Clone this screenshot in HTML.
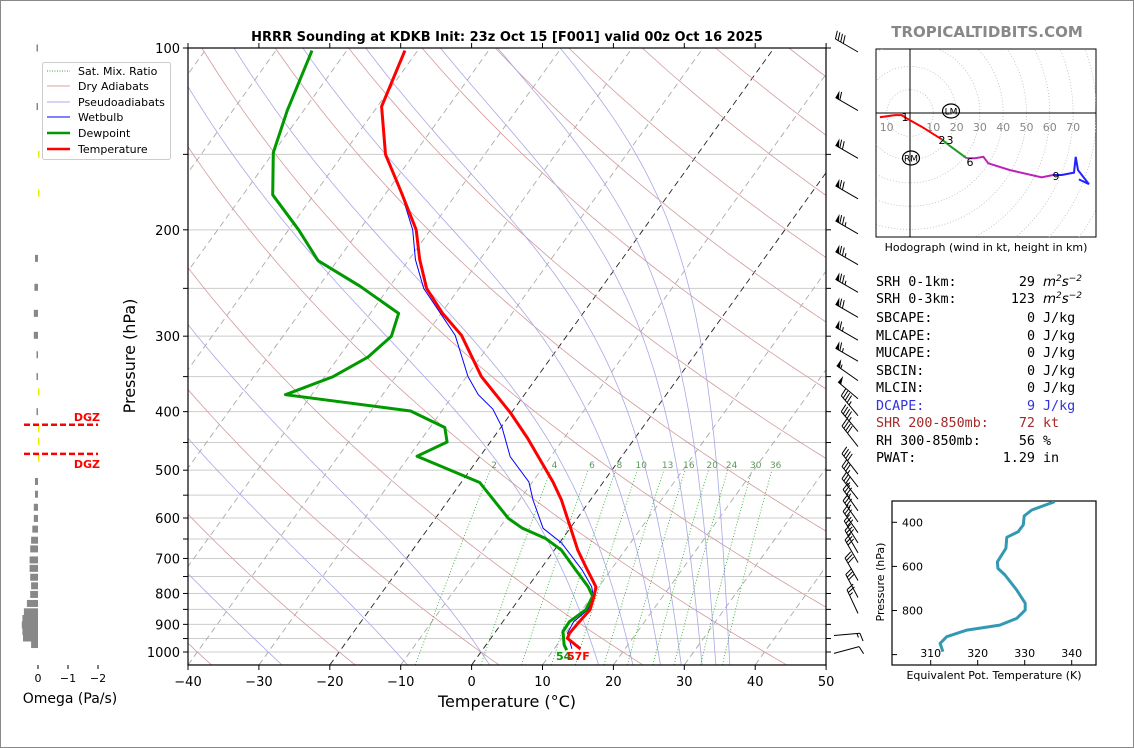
<!DOCTYPE html>
<html><head><meta charset="utf-8"><style>
html,body{margin:0;padding:0;background:#fff;}
svg{display:block;font-family:"DejaVu Sans","Liberation Sans",sans-serif;}
</style></head><body>
<svg id="chart" width="1134" height="748" viewBox="0 0 1134 748" xmlns="http://www.w3.org/2000/svg">
<defs><clipPath id="plotclip"><rect x="188" y="48" width="638" height="617"/></clipPath>
<clipPath id="hodoclip"><rect x="876" y="49" width="220" height="188"/></clipPath>
<clipPath id="thclip"><rect x="892" y="501" width="204" height="164"/></clipPath></defs>
<rect x="0.5" y="0.5" width="1133" height="747" fill="#fff" stroke="#888"/>
<text x="507" y="41" text-anchor="middle" font-size="13" font-weight="bold">HRRR Sounding at KDKB Init: 23z Oct 15 [F001] valid 00z Oct 16 2025</text>
<text x="987" y="37" text-anchor="middle" font-size="15" font-weight="bold" fill="#888">TROPICALTIDBITS.COM</text>
<g id="bg" clip-path="url(#plotclip)"></g>
<g id="series" clip-path="url(#plotclip)"></g>
<g id="axes"></g>
<g id="barbs"></g>
<g id="omega"></g>
<g id="hodo"></g>
<g id="theta"></g>
<g id="stats" font-family="'DejaVu Sans Mono','Liberation Mono',monospace" font-size="13.4">
<text x="876" y="286">SRH 0-1km:</text><text x="1035" y="286" text-anchor="end">29</text><text x="1043" y="286" font-style="italic" font-family="'DejaVu Sans',sans-serif">m<tspan dy="-5" font-size="9">2</tspan><tspan dy="5">s</tspan><tspan dy="-5" font-size="9">−2</tspan></text>
<text x="876" y="303">SRH 0-3km:</text><text x="1035" y="303" text-anchor="end">123</text><text x="1043" y="303" font-style="italic" font-family="'DejaVu Sans',sans-serif">m<tspan dy="-5" font-size="9">2</tspan><tspan dy="5">s</tspan><tspan dy="-5" font-size="9">−2</tspan></text>
<text x="876" y="322">SBCAPE:</text><text x="1035" y="322" text-anchor="end">0</text><text x="1043" y="322">J/kg</text>
<text x="876" y="340">MLCAPE:</text><text x="1035" y="340" text-anchor="end">0</text><text x="1043" y="340">J/kg</text>
<text x="876" y="357">MUCAPE:</text><text x="1035" y="357" text-anchor="end">0</text><text x="1043" y="357">J/kg</text>
<text x="876" y="375">SBCIN:</text><text x="1035" y="375" text-anchor="end">0</text><text x="1043" y="375">J/kg</text>
<text x="876" y="392">MLCIN:</text><text x="1035" y="392" text-anchor="end">0</text><text x="1043" y="392">J/kg</text>
<text x="876" y="410" fill="#3333dd">DCAPE:</text><text x="1035" y="410" text-anchor="end" fill="#3333dd">9</text><text x="1043" y="410" fill="#3333dd">J/kg</text>
<text x="876" y="427" fill="#a52a2a">SHR 200-850mb:</text><text x="1035" y="427" text-anchor="end" fill="#a52a2a">72</text><text x="1043" y="427" fill="#a52a2a">kt</text>
<text x="876" y="445">RH 300-850mb:</text><text x="1035" y="445" text-anchor="end">56</text><text x="1043" y="445">%</text>
<text x="876" y="462">PWAT:</text><text x="1035" y="462" text-anchor="end">1.29</text><text x="1043" y="462">in</text>
</g>
<g id="legend">
<rect x="42.5" y="62.5" width="128" height="97" fill="#fff" stroke="#ccc" rx="2"/>
<line x1="47" y1="71" x2="70" y2="71" stroke="#3a3" stroke-dasharray="1,1.5"/><text x="78" y="75" font-size="11">Sat. Mix. Ratio</text>
<line x1="47" y1="86" x2="70" y2="86" stroke="#d7a5a5"/><text x="78" y="90" font-size="11">Dry Adiabats</text>
<line x1="47" y1="102" x2="70" y2="102" stroke="#aaaaee"/><text x="78" y="106" font-size="11">Pseudoadiabats</text>
<line x1="47" y1="117" x2="70" y2="117" stroke="#0000ff"/><text x="78" y="121" font-size="11">Wetbulb</text>
<line x1="47" y1="133" x2="70" y2="133" stroke="#009900" stroke-width="2.5"/><text x="78" y="137" font-size="11">Dewpoint</text>
<line x1="47" y1="149" x2="70" y2="149" stroke="#ff0000" stroke-width="2.5"/><text x="78" y="153" font-size="11">Temperature</text>
</g>
</svg>
<script>
// ---- Sounding data ----
const tempP=[101,125,150,173,200,224,250,275,299,350,402,443,523,560,616,678,722,780,809,852,891,931,949,988];
const tempC=[-71.8,-69.4,-64,-58,-52,-48.5,-44.6,-39.8,-34.9,-27.9,-20.1,-15.1,-7.1,-4.1,-0.4,3.3,6.1,9.6,10.3,11.1,10.8,10.6,10.8,13.7];
const dewP=[101,127,149,175,200,225,248,275,300,325,350,375,399,425,449,474,524,601,624,648,678,731,780,809,851,891,925,973,993];
const dewC=[-84.9,-82.3,-80,-75.8,-68.6,-62.7,-54.2,-46,-44.7,-45.9,-48.8,-53.7,-34.4,-27.9,-26.1,-28.9,-17.4,-9.7,-6.7,-2.5,1,5,8.5,10.1,10.5,9.4,9.5,11,11.9];
const wbP=[166,200,224,250,299,350,375,396,424,475,523,560,624,660,731,780,809,851,891,931,988];
const wbC=[-59.6,-52.5,-49.1,-45,-35.8,-29.8,-26.5,-23,-19.9,-15.7,-10.5,-8.1,-3.8,0.3,5.9,9,10.2,10.8,10,10.3,12.5];
const xTicks=[-40,-30,-20,-10,0,10,20,30,40,50];
const pLabels=[100,200,300,400,500,600,700,800,900,1000];
const mixRatios=[2,4,6,8,10,13,16,20,24,30,36];
const moistT0=[-90,-70,-50,-30,-12,0,16,21,25,28,31,33,35];
const barbP=[100,125,150,175,200,225,250,275,300,325,350,375,400,425,450,500,525,550,575,600,625,650,675,700,750,800,850,925,990];
const barbDir=[300,300,300,300,300,300,300,300,300,300,305,310,320,320,322,322,322,322,325,325,325,328,330,330,330,332,335,85,75];
const barbSpd=[40,60,70,70,75,75,75,70,65,65,55,50,45,45,40,40,35,35,35,35,30,30,30,30,30,30,25,15,10];
const omegaP=[100,125,150,174,223,249,275,299,322,350,371,400,427,448,478,522,548,576,601,626,653,675,704,727,752,777,803,831,858,880,902,925,948,972];
const omegaV=[0.03,0.03,-0.03,-0.03,0.1,0.12,0.14,0.14,0.05,0.03,-0.03,0.03,-0.05,-0.05,-0.03,0.1,0.1,0.14,0.14,0.19,0.23,0.26,0.28,0.28,0.26,0.23,0.26,0.37,0.47,0.52,0.54,0.52,0.5,0.23];
const hodoU=[-12.9,-6.4,-3.6,-1.4,5,13.6,17.2,24.3,27.9,31.5,33.6,42.9,56.5,61.4,65.1,70.4,71.1,72.1,76.8,72.5];
const hodoV=[-1.8,-0.9,-0.9,-2.3,-5.9,-11.3,-14.2,-19.4,-19.4,-18.8,-21.6,-24.5,-27.6,-26.6,-26.6,-25.6,-18.8,-24.5,-30.5,-28.5];
const hodoSeg=[0,0,0,0,0,0,1,1,2,2,2,2,2,2,3,3,3,3,3,3];
const thetaP=[306,344,371,412,443,468,518,579,609,639,707,767,798,836,866,889,919,949,987];
const thetaK=[336.4,331.5,329.9,329.7,328.6,326.2,326,324.2,324.3,325.8,328.3,330.1,330.1,328.3,324.7,317.7,313.4,312,312.6];

const NS="http://www.w3.org/2000/svg";
function mk(tag,attrs,parent){const e=document.createElementNS(NS,tag);for(const k in attrs)e.setAttribute(k,attrs[k]);parent.appendChild(e);return e;}
function yP(p){return 48+604*Math.log10(p/100);}
function xT(T,p){return 188+(T+40)*7.09+0.72*(665-yP(p));}
function pts(ps,ts){return ps.map((p,i)=>xT(ts[i],p).toFixed(1)+","+yP(p).toFixed(1)).join(" ");}
const bg=document.getElementById('bg'),ser=document.getElementById('series'),ax=document.getElementById('axes');

for(let p=100;p<=1050;p+=50){const l=mk('line',{x1:188,x2:826,y1:yP(p),y2:yP(p),stroke:'#ccc','stroke-width':1},bg);

}
for(let t=-160;t<=50;t+=10){const l=mk('line',{x1:xT(t,1050),y1:yP(1050),x2:xT(t,100),y2:yP(100),stroke:(t===0||t===-20)?'#222':'#aaa','stroke-width':0.9,'stroke-dasharray':'6,4'},bg);

}
for(let th=-60;th<=220;th+=20){const ps=[],ts=[];for(let p=1050;p>=100;p-=10){ps.push(p);ts.push((th+273.15)*Math.pow(p/1000,0.286)-273.15);}
const l=mk('polyline',{points:pts(ps,ts),fill:'none',stroke:'#d49a9a','stroke-width':0.8},bg);

}
function dTdp(p,T){const es=6.112*Math.exp(17.67*(T-273.15)/(T-29.65));const rs=0.622*es/(p-es);return (287*T+2.5e6*rs)/(1004+2.5e6*2.5e6*rs*0.622/(287*T*T))/p;}
moistT0.forEach(t0=>{let ps=[],ts=[];let T=t0+273.15;for(let p=1000;p>=100;p-=5){ps.push(p);ts.push(T-273.15);T-=dTdp(p,T)*5;}
T=t0+273.15;const ps2=[],ts2=[];for(let p=1000;p<=1050;p+=5){ps2.unshift(p);ts2.unshift(T-273.15);T+=dTdp(p,T)*5;}
const l=mk('polyline',{points:pts(ps2.concat(ps),ts2.concat(ts)),fill:'none',stroke:'#a8a8e6','stroke-width':0.8},bg);

});
function tdw(w,p){const e=w/1000*p/(0.622+w/1000);const L=Math.log(e/6.112);return 243.5*L/(17.67-L);}
mixRatios.forEach(w=>{const ps=[],ts=[];for(let p=1050;p>=500;p-=10){ps.push(p);ts.push(tdw(w,p));}
const l=mk('polyline',{points:pts(ps,ts),fill:'none',stroke:'#2a2','stroke-width':0.8,'stroke-dasharray':'1,2'},bg);


const t=mk('text',{x:xT(tdw(w,500),490),y:468,'font-size':9,fill:'#5a9a5a','text-anchor':'middle'},bg);t.textContent=w;

});

const wb=mk('polyline',{points:pts(wbP,wbC),fill:'none',stroke:'#0000ff','stroke-width':1},ser);


const dw=mk('polyline',{points:pts(dewP,dewC),fill:'none',stroke:'#009900','stroke-width':3,'stroke-linejoin':'round'},ser);


const tp=mk('polyline',{points:pts(tempP,tempC),fill:'none',stroke:'#ff0000','stroke-width':3,'stroke-linejoin':'round'},ser);


const sd=mk('text',{x:556,y:660,'font-size':11,'font-weight':'bold',fill:'#009900'},ser);sd.textContent='54';


const st=mk('text',{x:567,y:660,'font-size':11,'font-weight':'bold',fill:'#ff0000'},ser);st.textContent='57F';



const fr=mk('rect',{x:188,y:48,width:638,height:617,fill:'none',stroke:'#000','stroke-width':1.2},ax);


xTicks.forEach(t=>{const x=188+(t+40)*7.09;mk('line',{x1:x,x2:x,y1:665,y2:670,stroke:'#000'},ax);mk('line',{x1:x,x2:x,y1:48,y2:43,stroke:'#000'},ax);
const lb=mk('text',{x:x,y:686,'font-size':13,'text-anchor':'middle'},ax);lb.textContent=(t<0?'\u2212':'')+Math.abs(t);

});
for(let p=100;p<=1000;p+=50){const y=yP(p);mk('line',{x1:183,x2:188,y1:y,y2:y,stroke:'#000'},ax);mk('line',{x1:826,x2:831,y1:y,y2:y,stroke:'#000'},ax);}
pLabels.forEach(p=>{const lb=mk('text',{x:180,y:yP(p)+5,'font-size':13,'text-anchor':'end'},ax);lb.textContent=p;

});
const xl=mk('text',{x:507,y:707,'font-size':16,'text-anchor':'middle'},ax);xl.textContent='Temperature (\u00B0C)';


const yl=mk('text',{x:135,y:356,'font-size':16,'text-anchor':'middle',transform:'rotate(-90 135 356)'},ax);yl.textContent='Pressure (hPa)';



const bb=document.getElementById('barbs');
barbP.forEach((p,i)=>{const d=barbDir[i]*Math.PI/180;const ux=Math.sin(d),uy=-Math.cos(d);const bx=barbDir[i]<180?834:858,by=yP(p)+4;
const tx=bx+26*ux,ty=by+26*uy;const px=-uy,py=ux;const g=mk('g',{},bb);


mk('line',{x1:bx,y1:by,x2:tx,y2:ty,stroke:'#000','stroke-width':1},g);
let s=barbSpd[i],cx=tx,cy=ty;
while(s>=50){mk('polygon',{points:`${cx},${cy} ${cx+px*8},${cy+py*8} ${cx-ux*4},${cy-uy*4}`,fill:'#000'},g);cx-=ux*5;cy-=uy*5;s-=50;}
while(s>=10){mk('line',{x1:cx,y1:cy,x2:cx+px*8+ux*2.5,y2:cy+py*8+uy*2.5,stroke:'#000','stroke-width':1},g);cx-=ux*3;cy-=uy*3;s-=10;}
if(s>=5){mk('line',{x1:cx,y1:cy,x2:cx+px*4+ux*1.2,y2:cy+py*4+uy*1.2,stroke:'#000','stroke-width':1},g);}
});

const om=document.getElementById('omega');
omegaP.forEach((p,i)=>{const v=omegaV[i];const w=Math.max(Math.abs(v)*30,1.5);const x=v>=0?38-w:38;
const r=mk('rect',{x:x,y:yP(p)-3.5,width:w,height:7,fill:v>=0?'#888':'#eeee00'},om);

});
[[0,'0'],[1,'\u22121'],[2,'\u22122']].forEach(a=>{const x=38+a[0]*30;mk('line',{x1:x,x2:x,y1:665,y2:669,stroke:'#000'},om);
const t=mk('text',{x:x,y:682,'font-size':11,'text-anchor':'middle'},om);t.textContent=a[1];

});
const ot=mk('text',{x:70,y:703,'font-size':14,'text-anchor':'middle'},om);ot.textContent='Omega (Pa/s)';


[424.7,453.9].forEach(y=>{const l=mk('line',{x1:24,x2:98,y1:y,y2:y,stroke:'#ff0000','stroke-width':2.5,'stroke-dasharray':'6,3'},om);

});
[[421,'dgz-top-label'],[468,'dgz-bottom-label']].forEach(a=>{const t=mk('text',{x:100,y:a[0],'font-size':11,'font-weight':'bold',fill:'#ff0000','text-anchor':'end'},om);t.textContent='DGZ';

});

const hd=document.getElementById('hodo');const ox=910,oy=113,ks=2.33;
const hb=mk('rect',{x:876,y:49,width:220,height:188,fill:'#fff',stroke:'#000','stroke-width':1},hd);


const hc=mk('g',{'clip-path':'url(#hodoclip)'},hd);
for(let r=10;r<=100;r+=10){mk('circle',{cx:ox,cy:oy,r:r*ks,fill:'none',stroke:'#bbb','stroke-dasharray':'1,2','stroke-width':0.8},hc);}
mk('line',{x1:876,x2:1096,y1:oy,y2:oy,stroke:'#000','stroke-width':1},hc);
mk('line',{x1:ox,x2:ox,y1:49,y2:237,stroke:'#000','stroke-width':1},hc);
[[-10,'10'],[10,'10'],[20,'20'],[30,'30'],[40,'40'],[50,'50'],[60,'60'],[70,'70']].forEach(a=>{const t=mk('text',{x:ox+a[0]*ks,y:131,'font-size':11,fill:'#888','text-anchor':'middle'},hc);t.textContent=a[1];

});
const segCol=['#ff0000','#229922','#bb22bb','#2222ff'];
for(let s=0;s<4;s++){const idx=[];hodoSeg.forEach((g,i)=>{if(g===s)idx.push(i);});if(s>0)idx.unshift(idx[0]-1);
const l=mk('polyline',{points:idx.map(i=>(ox+hodoU[i]*ks).toFixed(1)+','+(oy-hodoV[i]*ks).toFixed(1)).join(' '),fill:'none',stroke:segCol[s],'stroke-width':2},hc);

}
[[905,121,'1'],[942,144,'2'],[950,144,'3'],[970,166,'6'],[1056,180,'9']].forEach(a=>{const t=mk('text',{x:a[0],y:a[1],'font-size':11,'text-anchor':'middle'},hc);t.textContent=a[2];

});
[[951,111,'LM'],[911,158,'RM']].forEach(a=>{mk('ellipse',{cx:a[0],cy:a[1],rx:8.5,ry:7,fill:'none',stroke:'#000','stroke-width':1.2},hc);
const t=mk('text',{x:a[0],y:a[1]+3.5,'font-size':9,'text-anchor':'middle'},hc);t.textContent=a[2];

});
const hcap=mk('text',{x:986,y:251,'font-size':11,'text-anchor':'middle'},hd);hcap.textContent='Hodograph (wind in kt, height in km)';



const th=document.getElementById('theta');
function thx(k){return 930.7+(k-310)*4.7;}function thy(p){return 522.3+(p-400)*0.2205;}
const tf=mk('rect',{x:892,y:501,width:204,height:164,fill:'#fff',stroke:'#000','stroke-width':1.2},th);


[400,600,800].forEach(p=>{mk('line',{x1:892,x2:897,y1:thy(p),y2:thy(p),stroke:'#000'},th);
const t=mk('text',{x:923,y:thy(p)+4,'font-size':11,'text-anchor':'end'},th);t.textContent=p;

});
mk('line',{x1:892,x2:897,y1:thy(1000),y2:thy(1000),stroke:'#000'},th);
[310,320,330,340].forEach(k=>{mk('line',{x1:thx(k),x2:thx(k),y1:665,y2:660,stroke:'#000'},th);
const t=mk('text',{x:thx(k),y:657,'font-size':11,'text-anchor':'middle'},th);t.textContent=k;

});
const tl=mk('polyline',{points:thetaP.map((p,i)=>thx(thetaK[i]).toFixed(1)+','+thy(p).toFixed(1)).join(' '),fill:'none',stroke:'#3399b3','stroke-width':3,'stroke-linejoin':'round','clip-path':'url(#thclip)'},th);


const txl=mk('text',{x:994,y:679,'font-size':11,'text-anchor':'middle'},th);txl.textContent='Equivalent Pot. Temperature (K)';


const tyl=mk('text',{x:884,y:582,'font-size':11,'text-anchor':'middle',transform:'rotate(-90 884 582)'},th);tyl.textContent='Pressure (hPa)';


</script>
</body></html>
